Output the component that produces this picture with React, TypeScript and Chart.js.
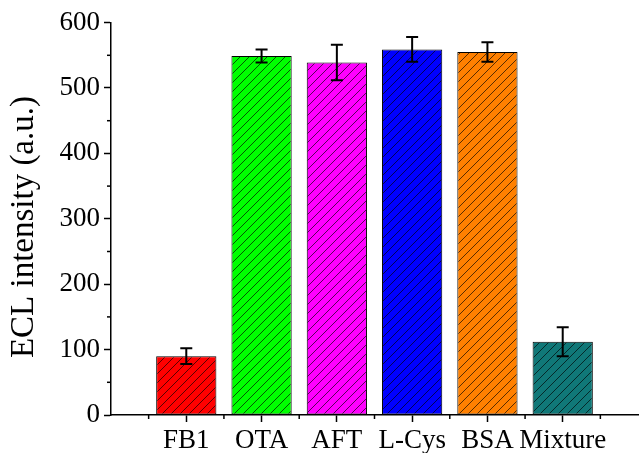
import React, { useEffect, useRef } from "react";
import { Chart, registerables } from "chart.js";

Chart.register(...registerables);

const categories = ["FB1", "OTA", "AFT", "L-Cys", "BSA", "Mixture"];
const values = [90, 549, 539, 559, 555, 112];
const errors = [12, 10, 27, 19, 15, 22];
const colors = ["#ff0000", "#00ff00", "#ff00ff", "#0000ff", "#ff8000", "#107878"];
const yTicks = [0, 100, 200, 300, 400, 500, 600];
const yMinorTicks = [50, 150, 250, 350, 450, 550];
const xMinorTicks = [0.5, 1.5, 2.5, 3.5, 4.5, 5.5, 6.5];

const FONT = "'Liberation Serif', 'Times New Roman', serif";

function makeHatch(color: string): CanvasPattern | string {
  const s = 9;
  const c = document.createElement("canvas");
  c.width = s;
  c.height = s;
  const g = c.getContext("2d");
  if (!g) return color;
  g.fillStyle = color;
  g.fillRect(0, 0, s, s);
  g.strokeStyle = "rgba(0,0,0,0.65)";
  g.lineWidth = 1;
  g.beginPath();
  g.moveTo(-1, s + 1);
  g.lineTo(s + 1, -1);
  g.moveTo(-1, 1);
  g.lineTo(1, -1);
  g.moveTo(s - 1, s + 1);
  g.lineTo(s + 1, s - 1);
  g.stroke();
  const p = g.createPattern(c, "repeat");
  return p || color;
}

const extrasPlugin = {
  id: "extras",
  afterDatasetsDraw(chart: any) {
    const ctx = chart.ctx;
    const xs = chart.scales.x;
    const ys = chart.scales.y;
    ctx.save();
    ctx.strokeStyle = "#000";
    ctx.lineWidth = 2;
    values.forEach((v, i) => {
      const x = xs.getPixelForValue(i + 1);
      const yt = ys.getPixelForValue(v + errors[i]);
      const yb = ys.getPixelForValue(v - errors[i]);
      ctx.beginPath();
      ctx.moveTo(x, yt);
      ctx.lineTo(x, yb);
      ctx.moveTo(x - 6, yt);
      ctx.lineTo(x + 6, yt);
      ctx.moveTo(x - 6, yb);
      ctx.lineTo(x + 6, yb);
      ctx.stroke();
    });
    // minor ticks
    ctx.lineWidth = 1.5;
    const left = chart.chartArea.left;
    const bottom = chart.chartArea.bottom;
    yMinorTicks.forEach((t) => {
      const y = ys.getPixelForValue(t);
      ctx.beginPath();
      ctx.moveTo(left, y);
      ctx.lineTo(left - 4, y);
      ctx.stroke();
    });
    xMinorTicks.forEach((t) => {
      const x = xs.getPixelForValue(t);
      ctx.beginPath();
      ctx.moveTo(x, bottom);
      ctx.lineTo(x, bottom + 4);
      ctx.stroke();
    });
    ctx.restore();
  },
};

export default function App() {
  const ref = useRef<HTMLCanvasElement | null>(null);
  useEffect(() => {
    if (!ref.current) return;
    const chart = new Chart(ref.current, {
      type: "bar",
      data: {
        datasets: [
          {
            data: values.map((v, i) => ({ x: i + 1, y: v })),
            backgroundColor: colors.map((c) => makeHatch(c)) as any,
            borderColor: "#000",
            borderWidth: 1,
            borderSkipped: false,
            barPercentage: 0.8,
            categoryPercentage: 1,
          },
        ],
      },
      options: {
        animation: false,
        responsive: false,
        layout: { padding: { top: 22.6, right: 1, left: 0, bottom: 0 } },
        plugins: { legend: { display: false }, tooltip: { enabled: false } },
        scales: {
          x: {
            type: "linear",
            min: 0,
            max: 7,
            offset: false,
            grid: {
              offset: false,
              drawOnChartArea: false,
              drawTicks: true,
              tickLength: 7,
              tickWidth: 1.5,
              tickColor: (c: any) => (c.tick && c.tick.value > 0 && c.tick.value < 7 ? "#000" : "rgba(0,0,0,0)"),
            },
            border: { color: "#000", width: 1.5 },
            ticks: {
              stepSize: 1,
              autoSkip: false,
              maxRotation: 0,
              padding: 3,
              color: "#000",
              font: { family: FONT, size: 27 },
              callback: (v: any) => categories[Number(v) - 1] ?? "",
            },
            afterFit: (s: any) => {
              s.height = 38;
            },
          },
          y: {
            min: 0,
            max: 600,
            afterBuildTicks: (s: any) => {
              s.ticks = yTicks.map((v) => ({ value: v }));
            },
            grid: {
              drawOnChartArea: false,
              drawTicks: true,
              tickLength: 7,
              tickWidth: 1.5,
              tickColor: "#000",
            },
            border: { color: "#000", width: 1.5 },
            ticks: {
              padding: 4,
              color: "#000",
              font: { family: FONT, size: 27 },
            },
            title: {
              display: true,
              text: "ECL intensity (a.u.)  ",
              color: "#000",
              font: { family: FONT, size: 33 },
              padding: { top: 5, bottom: 0 },
            },
            afterFit: (s: any) => {
              s.width = 111;
            },
          },
        },
      },
      plugins: [extrasPlugin],
    } as any);
    return () => chart.destroy();
  }, []);
  return (
    <div style={{ position: "fixed", left: 0, top: 0, width: 641, height: 453, background: "#fff" }}>
      <canvas ref={ref} width={641} height={453} style={{ display: "block" }} />
    </div>
  );
}
